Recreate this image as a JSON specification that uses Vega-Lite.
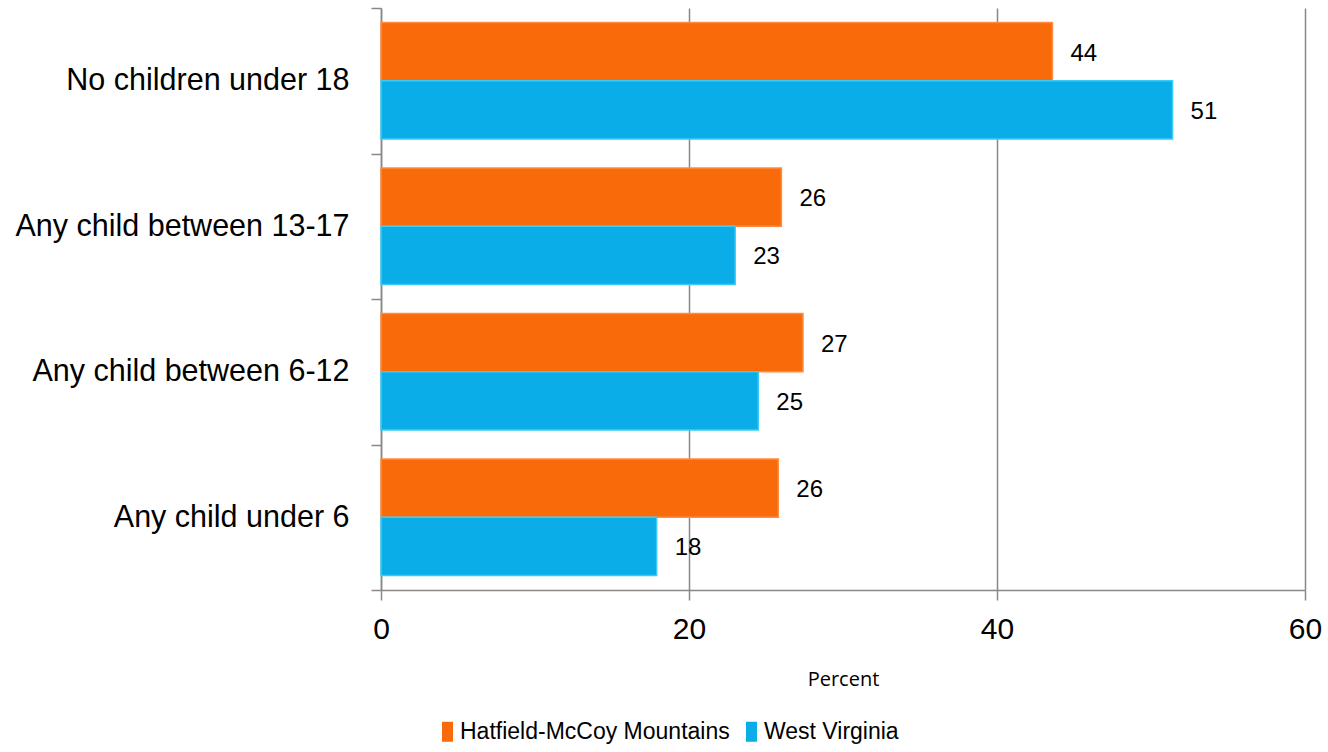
{
  "$schema": "https://vega.github.io/schema/vega-lite/v6.json",
  "width": 924,
  "height": 582,
  "autosize": {"type": "none"},
  "padding": {"left": 381, "top": 8, "right": 23, "bottom": 162},
  "background": "white",
  "config": {"view": {"stroke": null}},
  "data": {
    "values": [
      {"category": "No children under 18", "series": "Hatfield-McCoy Mountains", "value": 43.6, "label": "44"},
      {"category": "No children under 18", "series": "West Virginia", "value": 51.4, "label": "51"},
      {"category": "Any child between 13-17", "series": "Hatfield-McCoy Mountains", "value": 26.0, "label": "26"},
      {"category": "Any child between 13-17", "series": "West Virginia", "value": 23.0, "label": "23"},
      {"category": "Any child between 6-12", "series": "Hatfield-McCoy Mountains", "value": 27.4, "label": "27"},
      {"category": "Any child between 6-12", "series": "West Virginia", "value": 24.5, "label": "25"},
      {"category": "Any child under 6", "series": "Hatfield-McCoy Mountains", "value": 25.8, "label": "26"},
      {"category": "Any child under 6", "series": "West Virginia", "value": 17.9, "label": "18"}
    ]
  },
  "encoding": {
    "y": {
      "field": "category",
      "type": "nominal",
      "sort": null,
      "scale": {"paddingInner": 0, "paddingOuter": 0},
      "axis": {
        "title": null,
        "tickBand": "extent",
        "domainColor": "#888888",
        "domainWidth": 1.5,
        "tickColor": "#888888",
        "tickWidth": 1.5,
        "tickSize": 10,
        "labelFont": "Liberation Sans",
        "labelFontSize": 30.5,
        "labelColor": "#000000",
        "labelPadding": 22,
        "labelLimit": 400
      }
    },
    "yOffset": {
      "field": "series",
      "type": "nominal",
      "scale": {"paddingOuter": 0.25, "paddingInner": 0}
    },
    "x": {
      "field": "value",
      "type": "quantitative",
      "scale": {"domain": [0, 60], "nice": false},
      "axis": {
        "values": [0, 20, 40, 60],
        "title": "Percent",
        "titleFont": "Open Sans",
        "titleFontSize": 20,
        "titleFontWeight": "normal",
        "titleColor": "#000000",
        "titlePadding": 25,
        "grid": true,
        "gridColor": "#888888",
        "gridWidth": 1.5,
        "domainColor": "#888888",
        "domainWidth": 1.5,
        "tickColor": "#888888",
        "tickWidth": 1.5,
        "tickSize": 10,
        "labelFont": "Liberation Sans",
        "labelFontSize": 30,
        "labelColor": "#000000",
        "labelPadding": 14,
        "labelFlush": false,
        "labelOverlap": false
      }
    }
  },
  "layer": [
    {
      "mark": {"type": "bar", "strokeWidth": 1.5},
      "encoding": {
        "color": {
          "field": "series",
          "type": "nominal",
          "scale": {"domain": ["Hatfield-McCoy Mountains", "West Virginia"], "range": ["#F96A0A", "#0AADE8"]},
          "legend": {
            "title": null,
            "orient": "none",
            "direction": "horizontal",
            "legendX": 55,
            "legendY": 712,
            "symbolType": "M-0.55,-1H0.55V1H-0.55Z",
            "symbolSize": 400,
            "symbolStrokeWidth": 0,
            "labelFont": "Liberation Sans",
            "labelFontSize": 23,
            "labelColor": "#000000",
            "labelOffset": 1,
            "labelLimit": 400,
            "columnPadding": 10,
            "padding": 0
          }
        },
        "stroke": {
          "field": "series",
          "type": "nominal",
          "scale": {"domain": ["Hatfield-McCoy Mountains", "West Virginia"], "range": ["#FF8C40", "#3CCBF5"]},
          "legend": null
        }
      }
    },
    {
      "mark": {"type": "text", "align": "left", "baseline": "middle", "dx": 18, "dy": 2, "font": "Liberation Sans", "fontSize": 24, "color": "#000000"},
      "encoding": {"text": {"field": "label"}}
    }
  ]
}
